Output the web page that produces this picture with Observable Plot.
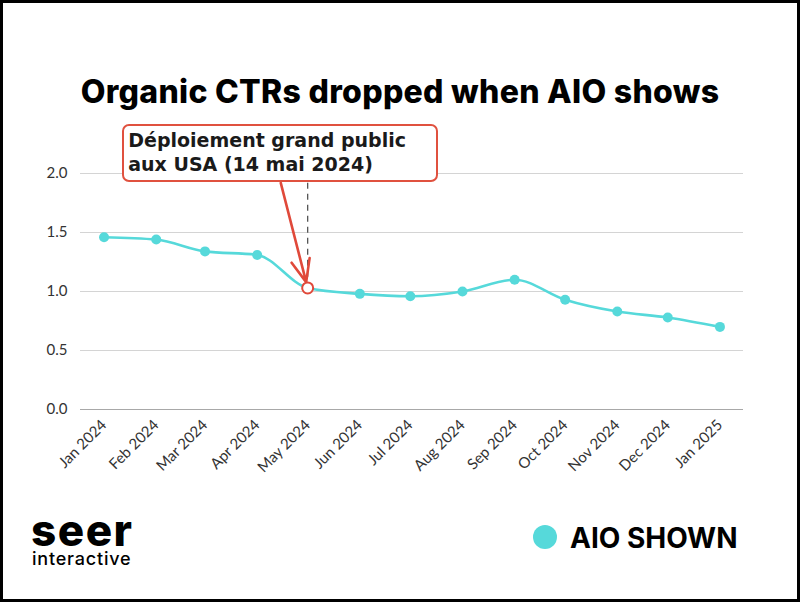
<!DOCTYPE html>
<html>
<head>
<meta charset="utf-8">
<script src="https://cdn.jsdelivr.net/npm/d3@7"></script>
<script src="https://cdn.jsdelivr.net/npm/@observablehq/plot@0.6"></script>
<style>
  html, body { margin: 0; padding: 0; background: #fff; }
  #frame { position: relative; width: 800px; height: 602px; overflow: hidden; background: #fff; }
  #border { position: absolute; left: 0; top: 0; width: 800px; height: 602px; box-sizing: border-box; border: 3px solid #000; pointer-events: none; z-index: 10; }
  #chart { position: absolute; left: 0; top: 0; }
  .abs { position: absolute; line-height: 1; white-space: nowrap; }
  #title { left: 0; width: 800px; text-align: center; top: 76px; font-family: Inter, sans-serif; font-weight: 800; font-size: 32px; letter-spacing: 0.3px; color: #000; }
  #note { position: absolute; box-sizing: border-box; width: 316px; height: 58px; border: 2px solid #e0513f; border-radius: 7px; background: #fff; padding: 2px 0 0 4px; font-family: "DejaVu Sans", sans-serif; font-weight: bold; font-size: 19px; line-height: 24px; color: #1a1a1a; white-space: nowrap; z-index: 5; }
  #seer { left: 31px; top: 515px; line-height: 0.7; font-family: Inter, sans-serif; font-weight: 800; font-size: 44px; letter-spacing: 1.5px; color: #000; }
  #interactive { left: 32px; top: 550px; font-family: Inter, sans-serif; font-weight: 500; font-size: 18px; letter-spacing: 0.8px; color: #000; }
  #swatch { position: absolute; left: 533px; top: 525px; width: 24px; height: 24px; border-radius: 50%; background: #56d9da; }
  #legendText { left: 570px; top: 524px; font-family: Inter, sans-serif; font-weight: 700; font-size: 28px; color: #000; }
</style>
</head>
<body>
<div id="frame">
  <div id="title" class="abs"></div>
  <div id="chart"></div>
  <div id="note"></div>
  <div id="seer" class="abs">seer</div>
  <div id="interactive" class="abs">interactive</div>
  <div id="swatch"></div>
  <div id="legendText" class="abs"></div>
  <div id="border"></div>
</div>
<script>
// ---- Data ----
const titleText = "Organic CTRs dropped when AIO shows";
const months = ["2024-01","2024-02","2024-03","2024-04","2024-05","2024-06","2024-07","2024-08","2024-09","2024-10","2024-11","2024-12","2025-01"];
const ctr = [1.46, 1.44, 1.34, 1.31, 1.03, 0.98, 0.96, 1.00, 1.10, 0.93, 0.83, 0.78, 0.70];
const yTicks = [0, 0.5, 1.0, 1.5, 2.0];
const seriesName = "AIO SHOWN";
const annotationMonth = "2024-05";
const annotationLines = ["Déploiement grand public", "aux USA (14 mai 2024)"];
const annotationBoxBottom = 1.92;   // value level of the note box bottom
const annotationArrowStart = "2024-04-15"; // date under the centre of the note box
const xDomain = ["2023-12-18", "2025-01-15"];

const lineColor = "#56d9da";
const red = "#e0493a";

const data = months.map((m, i) => ({date: new Date(m + "-01"), value: ctr[i]}));
const ann = data.find(d => d.date.getTime() === new Date(annotationMonth + "-01").getTime());
const arrowStart = new Date(annotationArrowStart);

const chart = Plot.plot({
  width: 800,
  height: 602,
  marginTop: 173,
  marginBottom: 193,
  marginLeft: 80,
  marginRight: 57,
  style: {fontFamily: "Lato, sans-serif", fontSize: "15px", color: "#333", background: "transparent", overflow: "visible"},
  x: {type: "utc", domain: xDomain.map(d => new Date(d))},
  y: {domain: [0, 2]},
  marks: [
    Plot.gridY(yTicks.filter(d => d > 0), {stroke: "#d4d4d4", strokeOpacity: 1, strokeWidth: 1}),
    Plot.ruleY([0], {stroke: "#a8a8a8", strokeWidth: 1.2}),
    Plot.axisY({ticks: yTicks, tickSize: 0, tickPadding: 13, tickFormat: d3.format(".1f"), label: null, fontSize: 15}),
    Plot.axisX({ticks: data.map(d => d.date), tickFormat: d3.utcFormat("%b %Y"), tickRotate: -45, tickSize: 0, tickPadding: 13, label: null, fontSize: 15}),
    Plot.ruleX([ann], {x: "date", y1: d => d.value + 0.09, y2: annotationBoxBottom, stroke: "#555", strokeWidth: 1.3, strokeDasharray: "6,5"}),
    Plot.line(data, {x: "date", y: "value", curve: "monotone-x", stroke: lineColor, strokeWidth: 2.6}),
    Plot.dot(data, {x: "date", y: "value", r: 5, fill: lineColor}),
    Plot.arrow([ann], {x1: () => arrowStart, y1: annotationBoxBottom, x2: "date", y2: "value", insetEnd: 6, stroke: red, strokeWidth: 2.6, headLength: 14, headAngle: 45}),
    Plot.dot([ann], {x: "date", y: "value", r: 5.5, fill: "white", stroke: red, strokeWidth: 2})
  ]
});
document.getElementById("chart").appendChild(chart);

document.getElementById("title").textContent = titleText;
document.getElementById("legendText").textContent = seriesName;

// Position the note box from the chart scales
const sx = chart.scale("x"), sy = chart.scale("y");
const note = document.getElementById("note");
note.innerHTML = annotationLines.map(t => `<div>${t}</div>`).join("");
const cx = sx.apply(arrowStart);
const by = sy.apply(annotationBoxBottom);
note.style.left = (cx - 158) + "px";
note.style.top = (by - 58) + "px";
</script>
</body>
</html>
